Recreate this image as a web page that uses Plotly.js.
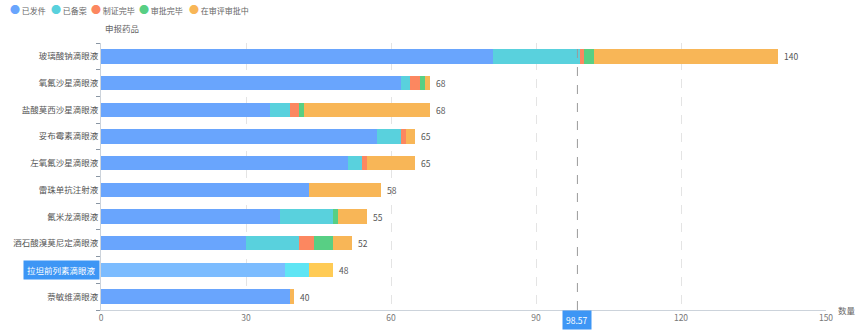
<!DOCTYPE html>
<html>
<head>
<meta charset="utf-8">
<script src="https://cdn.plot.ly/plotly-3.0.1.min.js"></script>
<style>html,body{margin:0;padding:0;background:#fff;}#chart{width:859px;height:331px;}</style>
</head>
<body>
<div id="chart"></div>
<script>
const categories = ['玻璃酸钠滴眼液','氧氟沙星滴眼液','盐酸莫西沙星滴眼液','妥布霉素滴眼液','左氧氟沙星滴眼液','雷珠单抗注射液','氟米龙滴眼液','酒石酸溴莫尼定滴眼液','拉坦前列素滴眼液','萘敏维滴眼液'];
const seriesNames = ['已发件','已备案','制证完毕','审批完毕','在审评审批中'];
const issued    = [81, 62, 35, 57, 51, 43, 37, 30, 38, 39];
const filed     = [18,  2,  4,  5,  3,  0, 11, 11,  5,  0];
const certified = [ 1,  2,  2,  1,  1,  0,  0,  3,  0,  0];
const approved  = [ 2,  1,  1,  0,  0,  0,  1,  4,  0,  0];
const reviewing = [38,  1, 26,  2, 10, 15,  6,  4,  5,  1];
const markLineValue = 98.57;
const highlightIndex = 8;
const xTicks = [0, 30, 60, 90, 120, 150];

const seriesValues = [issued, filed, certified, approved, reviewing];
const colors = ['#69a5fd', '#59d1dd', '#fc8760', '#58cf84', '#f8b657'];
const hiColors = ['#7cbcff', '#5fe5f4', '#ff9a70', '#60e090', '#ffcb55'];
const legendX = [8, 49, 89, 137, 187];
const totals = categories.map((c, i) => seriesValues.reduce((s, arr) => s + arr[i], 0));
const font = 'Noto Sans CJK SC, Noto Sans, sans-serif';

const traces = [];
seriesValues.forEach((vals, k) => {
  traces.push({
    type: 'bar', orientation: 'h', name: seriesNames[k],
    x: vals, y: categories,
    marker: {color: categories.map((c, i) => i === highlightIndex ? hiColors[k] : colors[k]),
             line: {width: 0}},
    showlegend: false, hoverinfo: 'x+y+name'
  });
});

const valueLabels = totals.map((t, i) => ({
  text: String(t), xref: 'x', yref: 'y', x: t, y: categories[i],
  xanchor: 'left', yanchor: 'middle', xshift: 4, showarrow: false,
  font: {family: font, size: 8.5, color: '#555'}
}));

const legendAnns = seriesNames.map((n, k) => ({
  text: '<span style="color:' + colors[k] + ';font-size:10px">●</span> ' + n,
  xref: 'paper', yref: 'paper', x: (legendX[k] - 101) / 725, y: 1,
  xanchor: 'left', yanchor: 'middle', yshift: 43 - 9, showarrow: false,
  font: {family: font, size: 8, color: '#666'}
}));

const layout = {
  width: 859, height: 331,
  margin: {l: 101, r: 33, t: 43, b: 21},
  barmode: 'stack', bargap: 0.46,
  paper_bgcolor: '#fff', plot_bgcolor: '#fff',
  font: {family: font, size: 8.5, color: '#666'},
  showlegend: false,
  xaxis: {
    range: [0, 150], tickvals: xTicks, ticktext: xTicks.map(String),
    showgrid: true, gridcolor: '#e4e4e4', griddash: 'dash', gridwidth: 1,
    zeroline: false, showline: true, linecolor: '#ccd3db', linewidth: 1,
    ticks: '', tickfont: {family: font, size: 8.5, color: '#777'}, fixedrange: true
  },
  yaxis: {
    autorange: 'reversed', type: 'category',
    ticks: 'outside', tickson: 'boundaries', ticklen: 4, tickcolor: '#8a96a3',
    showline: true, linecolor: '#ccd3db', linewidth: 1, showgrid: false,
    tickvals: categories,
    ticktext: categories.map((c, i) => i === highlightIndex ? '' : c),
    tickfont: {family: font, size: 8.5, color: '#555'}, fixedrange: true
  },
  shapes: [{
    type: 'line', xref: 'x', yref: 'paper', x0: markLineValue, x1: markLineValue, y0: 0, y1: 1.01,
    line: {color: '#9a9a9a', width: 1, dash: 'dash'}
  }],
  annotations: valueLabels.concat(legendAnns).concat([
    {text: '申报药品', xref: 'paper', yref: 'paper', x: 0, y: 1, xanchor: 'left', yanchor: 'bottom',
     xshift: 2, yshift: 7, showarrow: false, font: {family: font, size: 8.5, color: '#666'}},
    {text: '数量', xref: 'paper', yref: 'paper', x: 1, y: 0, xanchor: 'left', yanchor: 'middle',
     xshift: 10, yshift: 0, showarrow: false, font: {family: font, size: 8.5, color: '#666'}},
    {text: categories[highlightIndex], xref: 'paper', yref: 'y', x: 0, y: categories[highlightIndex],
     xanchor: 'right', yanchor: 'middle', xshift: -1, showarrow: false,
     bgcolor: '#3d96f5', borderpad: 3, font: {family: font, size: 8.5, color: '#fff'}},
    {text: String(markLineValue), xref: 'x', yref: 'paper', x: markLineValue, y: 0,
     xanchor: 'center', yanchor: 'top', yshift: 0, showarrow: false,
     bgcolor: '#3d96f5', borderpad: 3, font: {family: font, size: 8.5, color: '#fff'}}
  ])
};
Plotly.newPlot('chart', traces, layout, {displayModeBar: false, staticPlot: true});
</script>
</body>
</html>
